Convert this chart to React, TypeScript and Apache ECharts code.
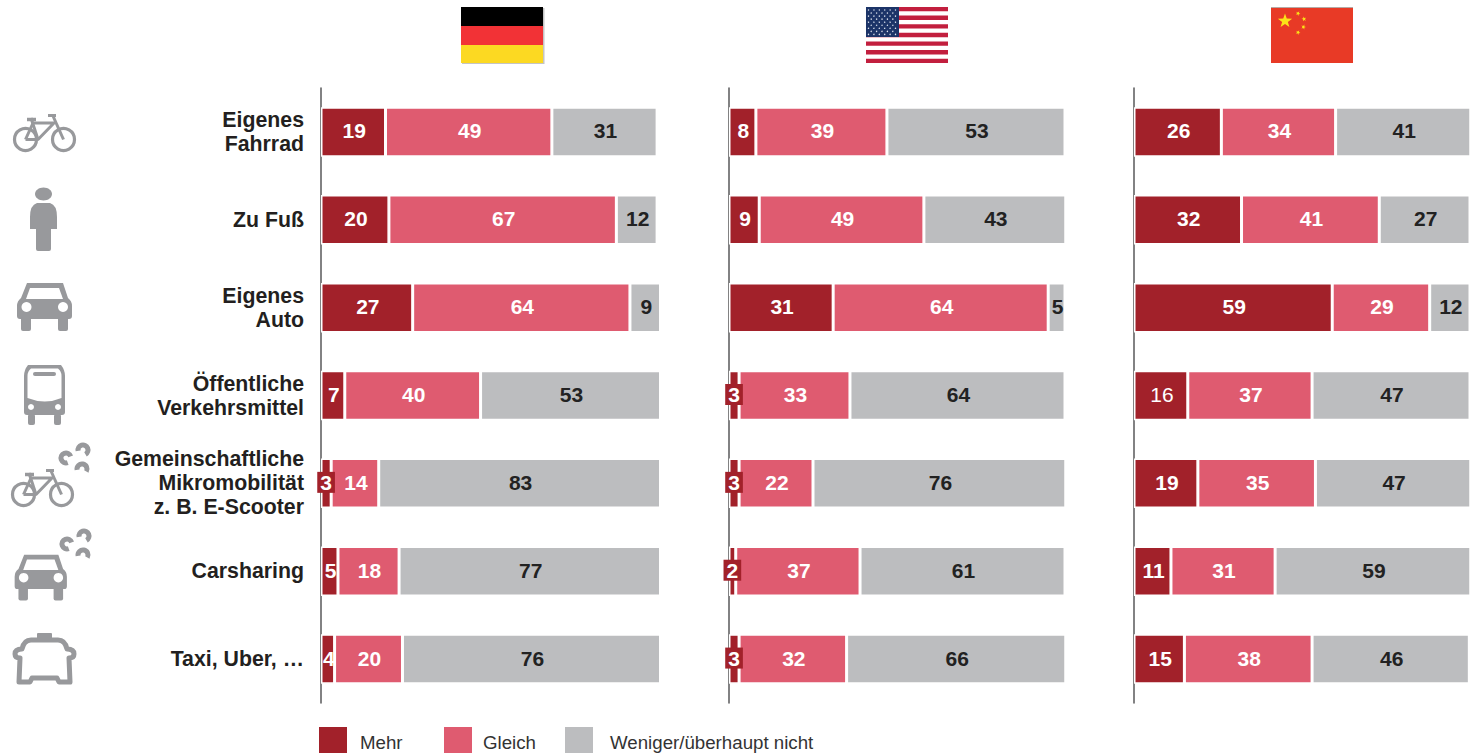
import React, { useEffect, useRef } from "react";
import * as echarts from "echarts";

const categories = [
  "Eigenes\nFahrrad",
  "Zu Fuß",
  "Eigenes\nAuto",
  "Öffentliche\nVerkehrsmittel",
  "Gemeinschaftliche\nMikromobilität\nz. B. E-Scooter",
  "Carsharing",
  "Taxi, Uber, …",
];
const seriesNames = ["Mehr", "Gleich", "Weniger/überhaupt nicht"];
const germanyMehr = [19, 20, 27, 7, 3, 5, 4];
const germanyGleich = [49, 67, 64, 40, 14, 18, 20];
const germanyWeniger = [31, 12, 9, 53, 83, 77, 76];
const usaMehr = [8, 9, 31, 3, 3, 2, 3];
const usaGleich = [39, 49, 64, 33, 22, 37, 32];
const usaWeniger = [53, 43, 5, 64, 76, 61, 66];
const chinaMehr = [26, 32, 59, 16, 19, 11, 15];
const chinaGleich = [34, 41, 29, 37, 35, 31, 38];
// The last grey bar is drawn longer than its printed label (46): the picture's rounding.
const chinaWeniger = [41, 27, 12, 47, 47, 59, 46.8];

const RED = "#a2212a";
const PINK = "#df5b70";
const GREY = "#bcbdbf";
const ICON = "#98999c";
const FONT = "'Liberation Sans', Arial, sans-serif";

const rect = (x: number, y: number, w: number, h: number, fill: string, r = 0) => ({
  type: "rect",
  shape: { x, y, width: w, height: h, r },
  style: { fill },
  silent: true,
});
const circle = (cx: number, cy: number, r: number, fill: string) => ({
  type: "circle",
  shape: { cx, cy, r },
  style: { fill },
  silent: true,
});
const line = (pts: number[][], lineWidth = 3) => ({
  type: "polyline",
  shape: { points: pts },
  style: { stroke: ICON, lineWidth, fill: "none", lineJoin: "round" },
  silent: true,
});
const ring = (cx: number, cy: number, r: number, lineWidth = 3.2) => ({
  type: "circle",
  shape: { cx, cy, r },
  style: { stroke: ICON, lineWidth, fill: "none" },
  silent: true,
});
const arc = (cx: number, cy: number, r: number, a: number, b: number) => ({
  type: "arc",
  shape: { cx, cy, r, startAngle: (a * Math.PI) / 180, endAngle: (b * Math.PI) / 180, clockwise: true },
  style: { stroke: ICON, lineWidth: 5, fill: "none" },
  silent: true,
});
const star = (cx: number, cy: number, r: number, rot = -90) => {
  const points: number[][] = [];
  for (let i = 0; i < 10; i++) {
    const rad = i % 2 ? r * 0.4 : r;
    const a = ((rot + i * 36) * Math.PI) / 180;
    points.push([cx + rad * Math.cos(a), cy + rad * Math.sin(a)]);
  }
  return { type: "polygon", shape: { points }, style: { fill: "#fbe318" }, silent: true };
};

function bike(dx: number, dy: number) {
  return {
    type: "group",
    x: dx,
    y: dy,
    children: [
      ring(25.5, 139.5, 11),
      ring(63.5, 139.5, 11),
      line([[25.5, 139.5], [33, 123], [54, 123], [38, 139.5], [25.5, 139.5]]),
      line([[31, 118], [38, 139.5]]),
      line([[53, 116], [63.5, 139.5]]),
      line([[27, 119.5], [36, 119.5]], 3.5),
      line([[48, 115.5], [56, 115.5]], 3),
    ],
  };
}
function car(x: number, y: number, scale: number) {
  return {
    type: "group",
    x,
    y,
    scaleX: scale,
    scaleY: scale,
    children: [
      { type: "carBody", style: { fill: ICON }, silent: true },
      rect(21, 317, 10, 14, ICON, 2),
      rect(58, 317, 10, 14, ICON, 2),
      { type: "polygon", shape: { points: [[30, 288], [59, 288], [63, 299], [26, 299]] }, style: { fill: "#fff" }, silent: true },
      circle(26.5, 307, 5, "#fff"),
      circle(63, 307, 5, "#fff"),
    ],
  };
}
function share(dx: number, dy: number) {
  return {
    type: "group",
    x: dx,
    y: dy,
    children: [arc(66, 458, 5, 70, 340), arc(83, 450, 5, 170, 60), arc(82, 469, 5, 170, 30)],
  };
}
function usFlag() {
  const kids: any[] = [rect(866, 7, 82, 56, "#ffffff")];
  for (let i = 0; i < 7; i++) kids.push(rect(866, 7 + (i * 56) / 6.5, 82, 4.3, "#c21f3e"));
  kids.push(rect(866, 7, 33, 30, "#1c3468"));
  for (let r = 0; r < 9; r++) {
    const n = r % 2 ? 5 : 6;
    for (let c = 0; c < n; c++) {
      kids.push(circle(868.5 + (r % 2 ? 2.7 : 0) + c * 5.4, 10 + r * 3.05, 0.7, "#dfe5f0"));
    }
  }
  return { type: "group", children: kids };
}

const makeSeries = (
  gridIndex: number,
  mehr: number[],
  gleich: number[],
  weniger: number[],
  regularMehr: number[] = [],
) => {
  const base = {
    type: "bar",
    stack: "s" + gridIndex,
    xAxisIndex: gridIndex,
    yAxisIndex: gridIndex,
    barWidth: 49.5,
    itemStyle: { borderColor: "#ffffff", borderWidth: 1.5 },
    emphasis: { disabled: true },
  };
  const label = (color: string) => ({
    show: true,
    position: "inside",
    offset: [1, -1],
    color,
    fontFamily: FONT,
    fontSize: 21,
    fontWeight: "bold",
    formatter: (p: any) => String(Math.floor(p.value)),
  });
  return [
    {
      ...base,
      name: seriesNames[0],
      color: RED,
      label: label("#ffffff"),
      data: mehr.map((v, i) => {
        if (v <= 3)
          return {
            value: v,
            label: { backgroundColor: RED, padding: [1, 3, 0, 3], lineHeight: 20, offset: [0, -1] },
          };
        if (regularMehr.includes(i)) return { value: v, label: { fontWeight: "normal" } };
        return v;
      }),
      z: 3,
    },
    { ...base, name: seriesNames[1], color: PINK, label: label("#ffffff"), data: gleich, z: 2 },
    { ...base, name: seriesNames[2], color: GREY, label: label("#222222"), data: weniger, z: 2 },
  ];
};

const grids = [
  { left: 321, width: 339.5 },
  { left: 729, width: 336 },
  { left: 1134, width: 336 },
];

const legendAt = (left: number, name: string, gap: number) => ({
  left,
  top: 727,
  orient: "horizontal",
  data: [name],
  icon: "rect",
  itemWidth: 28,
  itemHeight: 26,
  symbolKeepAspect: false,
  itemStyle: { borderWidth: 0 },
  selectedMode: false,
  padding: 0,
  formatter: "{t|{name}}",
  textStyle: {
    rich: {
      t: {
        fontFamily: FONT,
        fontSize: 18.7,
        color: "#333333",
        padding: [5, 0, 0, gap],
      },
    },
  },
});

export default function App() {
  const ref = useRef<HTMLDivElement>(null);
  useEffect(() => {
    document.body.style.margin = "0";
    echarts.graphic.registerShape(
      "personBody",
      echarts.graphic.extendPath(
        "M37 203 L50 203 Q57 205 57 217 L57 229 L51 229 L51 249 Q51 251 49 251 L38 251 Q36 251 36 249 L36 229 L30 229 L30 217 Q30 205 37 203 Z",
        {},
      ),
    );
    echarts.graphic.registerShape(
      "carBody",
      echarts.graphic.extendPath(
        "M27 283 L63 283 L68 298 Q72 301 72 306 L72 316 Q72 319 69 319 L20 319 Q17 319 17 316 L17 306 Q17 301 21 298 Z",
        {},
      ),
    );
    echarts.graphic.registerShape(
      "busBody",
      echarts.graphic.extendPath(
        "M28 365 L61 365 Q65 370 65 376 L65 412 Q65 415 62 415 L27 415 Q24 415 24 412 L24 376 Q24 370 28 365 Z",
        {},
      ),
    );
    echarts.graphic.registerShape(
      "busWindow",
      echarts.graphic.extendPath(
        "M31 368.5 L58 368.5 Q61.5 371 61.5 376 L61.5 398 Q45 405 27.5 398 L27.5 376 Q27.5 371 31 368.5 Z",
        {},
      ),
    );
    echarts.graphic.registerShape(
      "taxiOutline",
      echarts.graphic.extendPath(
        "M31 640 L58 640 Q65 640 67 649 Q74 649 74 654 Q74 658 69 658 L70 682 L59 682 L57 678 L32 678 L30 682 L19 682 L20 658 Q15 658 15 654 Q15 649 22 649 Q24 640 31 640 Z",
        {},
      ),
    );

    const chart = echarts.init(ref.current!, null, { renderer: "svg" });
    const option: any = {
      animation: false,
      textStyle: { fontFamily: FONT },
      grid: grids.map((g) => ({ left: g.left, width: g.width, top: 88, height: 615, containLabel: false })),
      xAxis: grids.map((_, i) => ({ type: "value", gridIndex: i, min: 0, max: 100, show: false })),
      yAxis: grids.map((_, i) => ({
        type: "category",
        gridIndex: i,
        inverse: true,
        data: categories,
        offset: 0.5,
        axisTick: { show: false },
        axisLine: { show: true, lineStyle: { color: "#58585a", width: 1.5 } },
        axisLabel:
          i === 0
            ? {
                show: true,
                interval: 0,
                margin: 16.5,
                fontFamily: FONT,
                fontSize: 21.3,
                fontWeight: "bold",
                lineHeight: 24,
                color: "#231f20",
                align: "right",
              }
            : { show: false },
      })),
      legend: [
        legendAt(319, seriesNames[0], 8),
        legendAt(444, seriesNames[1], 6),
        legendAt(565, seriesNames[2], 12),
      ],
      series: [
        ...makeSeries(0, germanyMehr, germanyGleich, germanyWeniger),
        ...makeSeries(1, usaMehr, usaGleich, usaWeniger),
        ...makeSeries(2, chinaMehr, chinaGleich, chinaWeniger, [3]),
      ],
      graphic: [
        // flags
        rect(462, 8, 82.5, 56, "#c4c4c4"),
        rect(461, 7, 82, 19, "#000000"),
        rect(461, 26, 82, 19, "#f23236"),
        rect(461, 45, 82, 18, "#fcd922"),
        usFlag(),
        rect(1271, 7, 82, 56, "#e83a26"),
        rect(1271, 7, 82, 1, "#b5a9a5"),
        star(1285, 21, 7.5),
        star(1298, 13.5, 2.5, -60),
        star(1304, 19, 2.5, -30),
        star(1303.5, 27, 2.5, 0),
        star(1298, 32.5, 2.5, -60),
        // icons
        bike(0, 0),
        {
          type: "group",
          children: [
            { type: "ellipse", shape: { cx: 43.5, cy: 194, rx: 8.5, ry: 6.5 }, style: { fill: ICON }, silent: true },
            { type: "personBody", style: { fill: ICON }, silent: true },
          ],
        },
        car(0, 0, 1),
        {
          type: "group",
          children: [
            { type: "busBody", style: { fill: ICON }, silent: true },
            { type: "busWindow", style: { fill: "#fff" }, silent: true },
            rect(33, 372, 23, 4, ICON, 2),
            circle(31, 407, 3, "#fff"),
            circle(58, 407, 3, "#fff"),
            rect(28, 414, 7, 11, ICON, 2),
            rect(54, 414, 7, 11, ICON, 2),
          ],
        },
        bike(-2, 355),
        share(0, 0),
        car(-1.5, 286, 0.95),
        share(1, 86),
        rect(37, 633, 15, 7, ICON, 1),
        { type: "taxiOutline", style: { fill: "none", stroke: ICON, lineWidth: 5, lineJoin: "round" }, silent: true },
      ],
    };
    chart.setOption(option);
    return () => chart.dispose();
  }, []);
  return <div ref={ref} style={{ position: "absolute", left: 0, top: 0, width: 1477, height: 755 }} />;
}
